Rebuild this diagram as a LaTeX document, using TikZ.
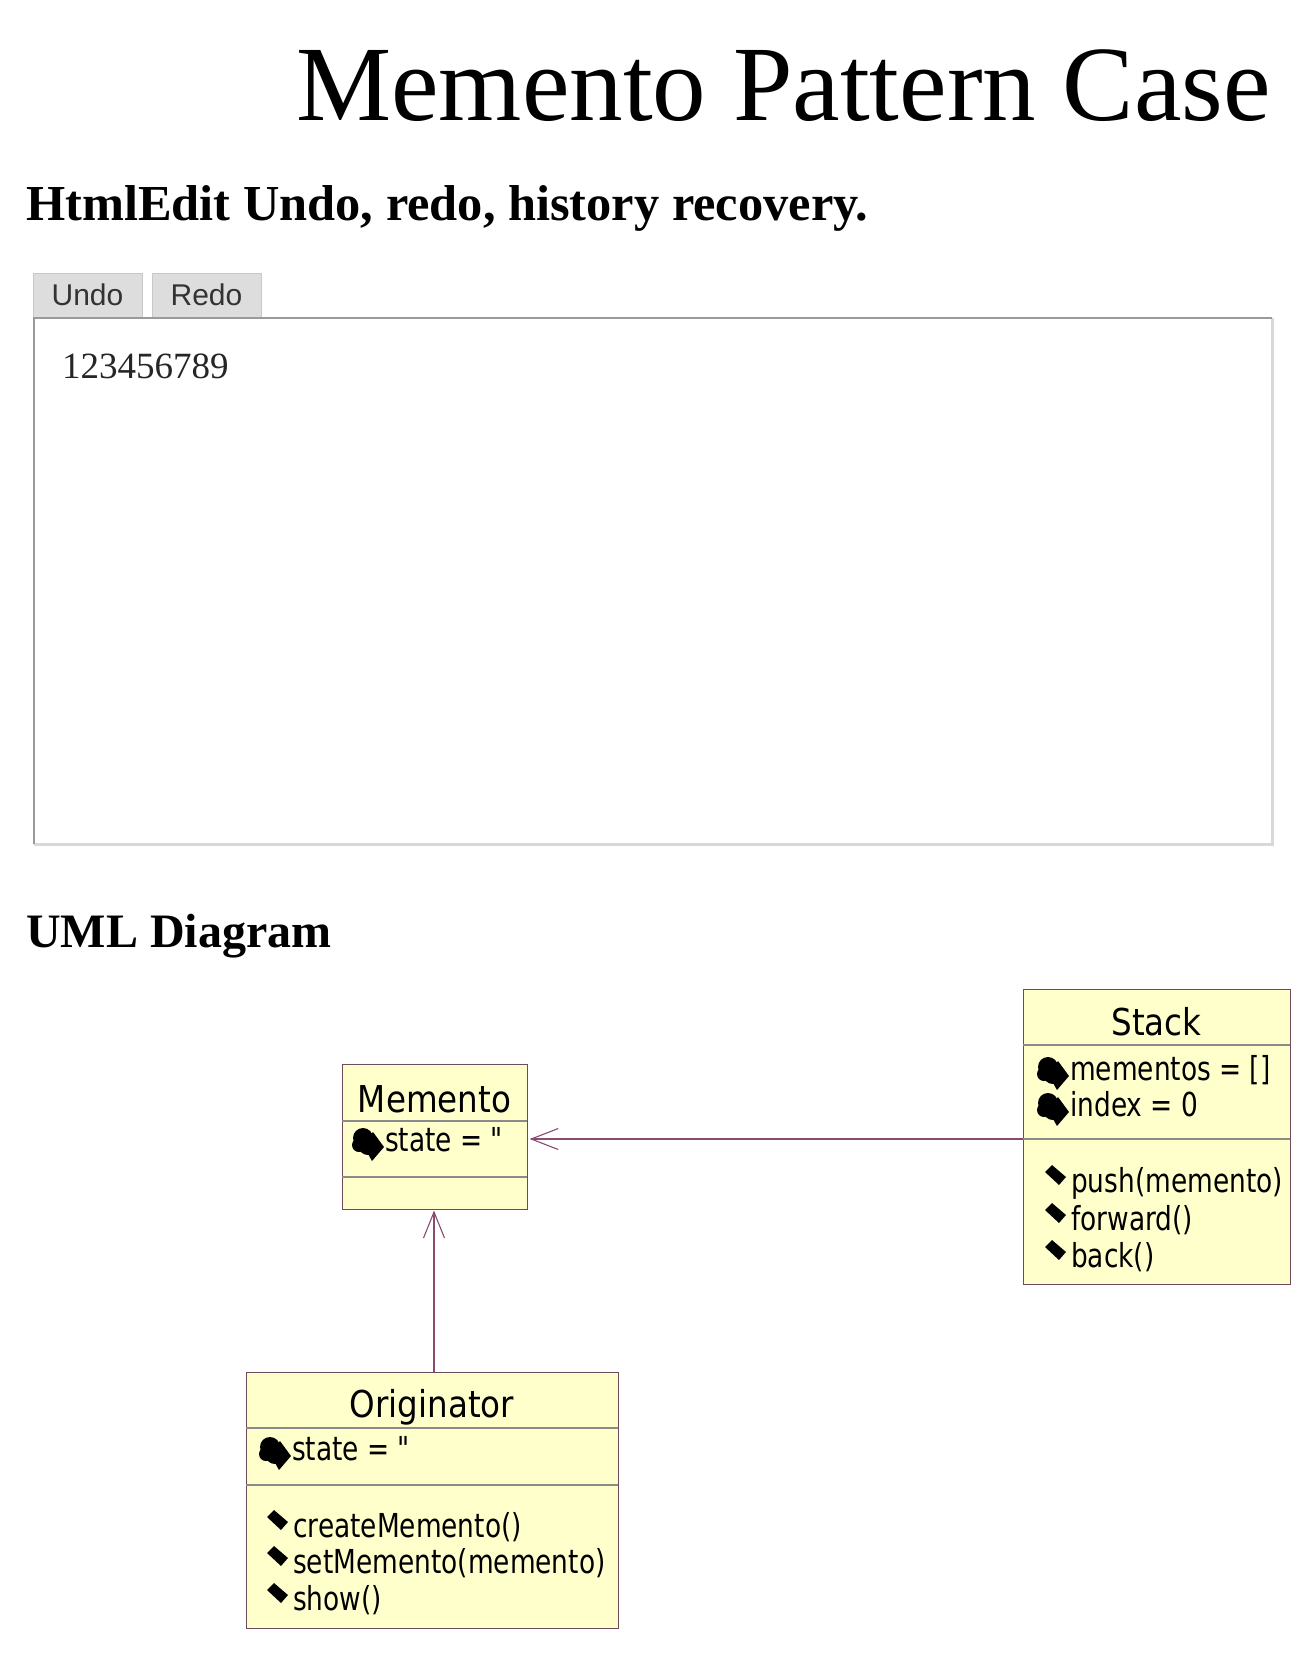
\documentclass[tikz,border=0pt]{standalone}
\usepackage{fontspec}
\usetikzlibrary{calc}
\setmainfont{Liberation Serif}
\newfontfamily\uifont{Liberation Sans}
\newfontfamily\umlfont[FakeStretch=0.80]{DejaVu Sans}
\newfontfamily\umltitlefont[FakeStretch=0.88]{DejaVu Sans}

\definecolor{classfill}{HTML}{FFFFCC}
\definecolor{classline}{HTML}{6E4A5C}
\definecolor{sepline}{HTML}{8A8A8A}
\definecolor{assoccol}{HTML}{8A4A72}
\definecolor{btnfill}{HTML}{DDDDDD}
\definecolor{btnline}{HTML}{C8C8C8}
\definecolor{areadark}{HTML}{9A9A9A}
\definecolor{arealight}{HTML}{D8D8D8}

% one unit = one pixel, y grows downwards
\newcommand{\fs}[1]{\fontsize{#1}{#1}\selectfont}

% private attribute marker: a lock blob over a diamond
\newcommand{\attricon}[1]{%
  \fill ($(#1)+(-22,-13)$) circle[radius=10];
  \fill ($(#1)+(-17,-6)$) circle[radius=10];
  \fill ($(#1)+(-26,-6)$) circle[radius=7];
  \fill ($(#1)+(-22,-6)$) -- ($(#1)+(-12,-19)$) -- ($(#1)+(-1,-4)$) -- ($(#1)+(-13,10)$) -- cycle;
}
% public operation marker: a small tilted diamond
\newcommand{\opicon}[1]{%
  \fill ($(#1)+(-26,-20)$) -- ($(#1)+(-19,-27)$) -- ($(#1)+(-5,-15)$) -- ($(#1)+(-12,-7)$) -- cycle;
}

\begin{document}
\begin{tikzpicture}[x=1pt,y=-1pt,
  txt/.style={inner sep=0pt,anchor=base west},
  button/.style={draw=btnline,fill=btnfill,line width=1.2pt,anchor=north west,
    minimum width=109pt,minimum height=45pt,inner sep=0pt},
  btnlabel/.style={inner sep=0pt,anchor=base,font=\uifont\fs{30},text=black!80},
  classbox/.style={draw=classline,fill=classfill,line width=1.2pt,anchor=north west,inner sep=0pt},
  sep/.style={draw=sepline,line width=1.2pt},
  ctitle/.style={inner sep=0pt,anchor=base,font=\umltitlefont\fs{37}},
  member/.style={inner sep=0pt,anchor=base west,font=\umlfont\fs{33}},
  assoc/.style={draw=assoccol,line width=1.1pt}]

\useasboundingbox[fill=white] (0,0) rectangle (1308,1656);

% headings
\node[txt,font=\fs{107}] (title) at (296,121) {Memento Pattern Case};
\node[txt,font=\bfseries\fs{50.4}] (h1) at (26,220) {HtmlEdit Undo, redo, history recovery.};
\node[txt,font=\bfseries\fs{48}] (h2) at (26,947) {UML Diagram};

% editor toolbar
\node[button] (undo) at (33,273) {};
\node[button] (redo) at (152,273) {};
\node[btnlabel] (undolbl) at (87.5,305) {Undo};
\node[btnlabel] (redolbl) at (206.5,305) {Redo};

% editing area with inset border
\fill[white] (34,318) rectangle (1272,844);
\draw[arealight,line width=3pt] (34,844) -- (1272,844) -- (1272,318);
\draw[areadark,line width=2.4pt] (34,844) -- (34,318) -- (1272,318);
\node[txt,font=\fs{37},text=black!85] (content) at (62,378) {123456789};

% ---- class Memento
\node[classbox,minimum width=185pt,minimum height=145pt] (memento) at (342,1064) {};
\draw[sep] (342,1121) -- (527,1121);
\draw[sep] (342,1177) -- (527,1177);
\node[ctitle] (memtitle) at (434.5,1112) {Memento};
\coordinate (ma1) at (385,1151);
\attricon{ma1}
\node[member] (memstate) at (ma1) {state = "};

% ---- class Stack
\node[classbox,minimum width=267pt,minimum height=295pt] (stack) at (1023,989) {};
\draw[sep] (1023,1045) -- (1290,1045);
\draw[sep] (1023,1139) -- (1290,1139);
\node[ctitle] (stacktitle) at (1156.5,1035) {Stack};
\coordinate (sa1) at (1070,1080);
\coordinate (sa2) at (1070,1116);
\attricon{sa1}
\attricon{sa2}
\node[member] (stmem) at (sa1) {mementos = []};
\node[member] (stidx) at (sa2) {index = 0};
\coordinate (so1) at (1071,1192);
\coordinate (so2) at (1071,1230);
\coordinate (so3) at (1071,1267);
\opicon{so1}
\opicon{so2}
\opicon{so3}
\node[member] (stpush) at (so1) {push(memento)};
\node[member] (stfwd) at (so2) {forward()};
\node[member] (stback) at (so3) {back()};

% ---- class Originator
\node[classbox,minimum width=372pt,minimum height=256pt] (orig) at (246,1372) {};
\draw[sep] (246,1428) -- (618,1428);
\draw[sep] (246,1485) -- (618,1485);
\node[ctitle] (origtitle) at (432,1417) {Originator};
\coordinate (oa1) at (292,1460);
\attricon{oa1}
\node[member] (origstate) at (oa1) {state = "};
\coordinate (oo1) at (293,1537);
\coordinate (oo2) at (293,1573);
\coordinate (oo3) at (293,1610);
\opicon{oo1}
\opicon{oo2}
\opicon{oo3}
\node[member] (ocreate) at (oo1) {createMemento()};
\node[member] (oset) at (oo2) {setMemento(memento)};
\node[member] (oshow) at (oo3) {show()};

% ---- associations
\coordinate (port) at (1023,1139);
\coordinate (tipA) at ([xshift=3pt]memento.east |- port);
\draw[assoc] (stack.west |- port) -- (tipA);
\draw[assoc] ($(tipA)+(27,-10.5)$) -- (tipA) -- ++(27,10.5);

\coordinate (tipB) at (434,1212);
\draw[assoc] (tipB |- orig.north) -- (tipB);
\draw[assoc] ($(tipB)+(-10.5,26)$) -- (tipB) -- ++(10.5,26);

\end{tikzpicture}
\end{document}
